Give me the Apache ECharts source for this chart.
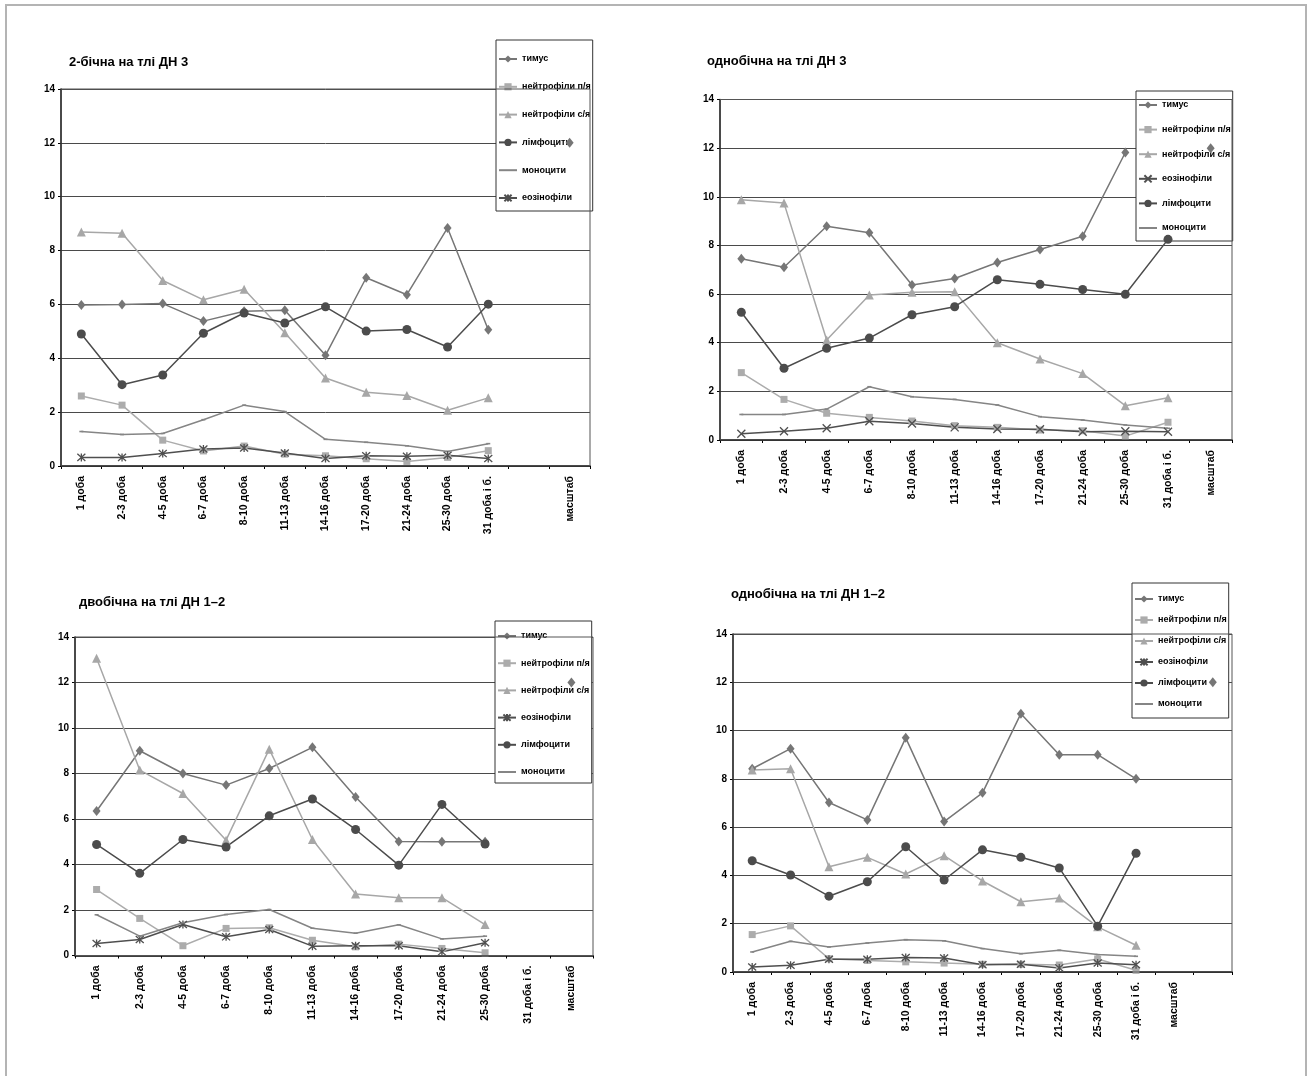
<!DOCTYPE html>
<html>
<head>
<meta charset="utf-8">
<script src="https://cdn.jsdelivr.net/npm/echarts@6/dist/echarts.min.js"></script>
<style>
  html, body { margin: 0; padding: 0; background: #fff; }
  #frame { position: absolute; left: 5px; top: 4px; width: 1302px; height: 1090px;
           border: 2px solid #b4b4b4; border-bottom: none; box-sizing: border-box; }
  .panel { position: absolute; left: 0; top: 0; width: 1308px; height: 1076px; }
</style>
</head>
<body>
<div id="frame"></div>
<div class="panel" id="p1"></div>
<div class="panel" id="p2"></div>
<div class="panel" id="p3"></div>
<div class="panel" id="p4"></div>
<script>
// Observation periods (x categories)
const days = ['1 доба', '2-3 доба', '4-5 доба', '6-7 доба', '8-10 доба', '11-13 доба',
              '14-16 доба', '17-20 доба', '21-24 доба', '25-30 доба', '31 доба і б.'];
const scaleLabel = 'масштаб';

const yTicks = { min: 0, max: 14, step: 2 };

// Series names
const NAMES = {
  thymus: 'тимус',
  band: 'нейтрофіли п/я',
  seg: 'нейтрофіли с/я',
  lymph: 'лімфоцити',
  mono: 'моноцити',
  eos: 'еозінофіли'
};

// 2-бічна на тлі ДН 3
const p1Cats   = [...days, '', scaleLabel];
const p1Thymus = [5.98, 6.0, 6.03, 5.38, 5.75, 5.78, 4.11, 6.99, 6.36, 8.84, 5.06, null, 12];
const p1Band   = [2.6, 2.26, 0.96, 0.56, 0.74, 0.44, 0.38, 0.27, 0.17, 0.32, 0.57];
const p1Seg    = [8.69, 8.64, 6.89, 6.17, 6.56, 4.95, 3.27, 2.74, 2.62, 2.07, 2.53];
const p1Lymph  = [4.9, 3.02, 3.38, 4.93, 5.68, 5.31, 5.91, 5.01, 5.07, 4.42, 6.01];
const p1Mono   = [1.28, 1.17, 1.21, 1.72, 2.26, 2.02, 0.99, 0.88, 0.75, 0.54, 0.83];
const p1Eos    = [0.32, 0.32, 0.46, 0.63, 0.67, 0.48, 0.28, 0.38, 0.36, 0.4, 0.28];

// однобічна на тлі ДН 3
const p2Cats   = [...days, scaleLabel];
const p2Thymus = [7.45, 7.1, 8.79, 8.52, 6.37, 6.64, 7.3, 7.83, 8.38, 11.82, null, 12];
const p2Band   = [2.77, 1.67, 1.1, 0.93, 0.78, 0.59, 0.52, 0.41, 0.38, 0.16, 0.73];
const p2Seg    = [9.88, 9.74, 4.11, 5.96, 6.07, 6.1, 4.0, 3.33, 2.73, 1.41, 1.74];
const p2Eos    = [0.26, 0.36, 0.48, 0.77, 0.68, 0.52, 0.45, 0.44, 0.34, 0.36, 0.34];
const p2Lymph  = [5.25, 2.95, 3.77, 4.19, 5.15, 5.48, 6.59, 6.4, 6.19, 5.99, 8.25];
const p2Mono   = [1.05, 1.05, 1.27, 2.19, 1.78, 1.67, 1.44, 0.96, 0.82, 0.62, 0.48];

// двобічна на тлі ДН 1–2
const p3Cats   = [...days, scaleLabel];
const p3Thymus = [6.35, 9.0, 8.0, 7.49, 8.22, 9.15, 6.97, 5.01, 5.0, 5.0, null, 12];
const p3Band   = [2.9, 1.63, 0.43, 1.19, 1.22, 0.67, 0.38, 0.5, 0.31, 0.12];
const p3Seg    = [13.07, 8.15, 7.12, 5.07, 9.07, 5.1, 2.7, 2.54, 2.54, 1.36];
const p3Eos    = [0.53, 0.7, 1.36, 0.82, 1.14, 0.41, 0.43, 0.43, 0.16, 0.56];
const p3Lymph  = [4.88, 3.61, 5.1, 4.77, 6.14, 6.88, 5.54, 3.97, 6.64, 4.9];
const p3Mono   = [1.79, 0.85, 1.44, 1.8, 2.02, 1.2, 0.98, 1.35, 0.73, 0.85];

// однобічна на тлі ДН 1–2
const p4Cats   = [...days, scaleLabel, ''];
const p4Thymus = [8.42, 9.25, 7.02, 6.3, 9.7, 6.23, 7.42, 10.7, 9.0, 9.0, 8.0, null, 12];
const p4Band   = [1.55, 1.91, 0.55, 0.48, 0.42, 0.37, 0.32, 0.32, 0.29, 0.54, 0.07];
const p4Seg    = [8.37, 8.42, 4.36, 4.75, 4.06, 4.82, 3.77, 2.91, 3.07, 1.87, 1.11];
const p4Eos    = [0.21, 0.28, 0.53, 0.53, 0.6, 0.58, 0.3, 0.32, 0.17, 0.37, 0.3];
const p4Lymph  = [4.61, 4.02, 3.14, 3.74, 5.19, 3.81, 5.06, 4.75, 4.31, 1.9, 4.92];
const p4Mono   = [0.83, 1.27, 1.04, 1.2, 1.34, 1.29, 0.97, 0.76, 0.9, 0.72, 0.65];

const FONT = "'Liberation Sans', Arial, sans-serif";
const ASTERISK = 'path://M5,0L5,10M0.6,0.6L9.4,9.4M0.6,9.4L9.4,0.6';
const CROSS = 'path://M0,0L10,10M0,10L10,0';

// Marker / line look of each series kind
const STYLE = {
  thymus: { color: '#767676', symbol: 'diamond', size: [8, 10] },
  band:   { color: '#acacac', symbol: 'rect', size: 7 },
  seg:    { color: '#a7a7a7', symbol: 'triangle', size: 9 },
  lymph:  { color: '#4c4c4c', symbol: 'circle', size: 9 },
  mono:   { color: '#858585', symbol: 'rect', size: [4, 1.6], plainKey: true },
  eos:    { color: '#4f4f4f', symbol: ASTERISK, size: 8, stroke: true },
  eosX:   { color: '#4f4f4f', symbol: CROSS, size: 8, stroke: true }
};

function makeSeries(kind, name, data) {
  const s = STYLE[kind];
  return {
    type: 'line',
    name: name,
    data: data,
    z: 5,
    symbol: s.symbol,
    symbolSize: s.size,
    showAllSymbol: true,
    connectNulls: false,
    animation: false,
    lineStyle: { color: s.color, width: 1.5 },
    itemStyle: s.stroke
      ? { color: 'rgba(0,0,0,0)', borderColor: s.color, borderWidth: 1.3 }
      : { color: s.color, borderWidth: 0 },
    emphasis: { disabled: true }
  };
}

function legendItem(s) {
  // the tiny dash marker of the monocyte line reads as a plain line in the key
  return STYLE[s.kind].plainKey ? { name: s.name, itemStyle: { opacity: 0 } } : { name: s.name };
}

function buildOption(cfg) {
  return {
    animation: false,
    title: {
      text: cfg.title,
      left: cfg.titlePos[0], top: cfg.titlePos[1],
      padding: 0,
      textStyle: { fontFamily: FONT, fontSize: 13, fontWeight: 'bold', color: '#000' }
    },
    grid: Object.assign({
      show: true, z: 6, borderColor: '#555', borderWidth: 1,
      backgroundColor: 'rgba(0,0,0,0)', containLabel: false
    }, cfg.grid),
    legend: {
      orient: 'vertical',
      left: cfg.legend.left, top: cfg.legend.top,
      padding: cfg.legend.padding,
      itemGap: cfg.legend.gap,
      itemWidth: 18, itemHeight: 9,
      backgroundColor: '#fff',
      borderColor: '#333', borderWidth: 1,
      z: 4,
      selectedMode: false,
      textStyle: { fontFamily: FONT, fontSize: 9, fontWeight: 'bold', color: '#000', lineHeight: 12 },
      data: cfg.series.map(legendItem)
    },
    xAxis: {
      type: 'category',
      data: cfg.cats,
      boundaryGap: true,
      axisLine: { lineStyle: { color: '#000', width: 1.5 } },
      axisTick: { show: true, length: 3, lineStyle: { color: '#000' } },
      axisLabel: {
        interval: 0, rotate: 90, margin: 10,
        fontFamily: FONT, fontSize: 10.5, fontWeight: 'bold', color: '#000'
      },
      splitLine: { show: false }
    },
    yAxis: {
      type: 'value',
      min: yTicks.min, max: yTicks.max, interval: yTicks.step,
      axisLine: { show: true, lineStyle: { color: '#000', width: 1.5 } },
      axisTick: { show: true, length: 3, lineStyle: { color: '#000' } },
      axisLabel: { margin: 6, fontFamily: FONT, fontSize: 10, fontWeight: 'bold', color: '#000' },
      splitLine: { show: true, lineStyle: { color: '#4a4a4a', width: 1 } }
    },
    series: cfg.series.map(s => makeSeries(s.kind, s.name, s.data))
  };
}

const panels = [
  {
    el: 'p1', title: '2-бічна на тлі ДН 3', titlePos: [69, 56],
    grid: { left: 61, top: 89, right: 718, bottom: 610 },
    legend: { left: 496, top: 40, gap: 15.8, padding: [13, 2, 7, 2] },
    cats: p1Cats,
    series: [
      { kind: 'thymus', name: NAMES.thymus, data: p1Thymus },
      { kind: 'band', name: NAMES.band, data: p1Band },
      { kind: 'seg', name: NAMES.seg, data: p1Seg },
      { kind: 'lymph', name: NAMES.lymph, data: p1Lymph },
      { kind: 'mono', name: NAMES.mono, data: p1Mono },
      { kind: 'eos', name: NAMES.eos, data: p1Eos }
    ]
  },
  {
    el: 'p2', title: 'однобічна на тлі ДН 3', titlePos: [707, 55],
    grid: { left: 720, top: 99.5, right: 76, bottom: 636 },
    legend: { left: 1136, top: 91, gap: 12.6, padding: [8, 2, 7, 2] },
    cats: p2Cats,
    series: [
      { kind: 'thymus', name: NAMES.thymus, data: p2Thymus },
      { kind: 'band', name: NAMES.band, data: p2Band },
      { kind: 'seg', name: NAMES.seg, data: p2Seg },
      { kind: 'eosX', name: NAMES.eos, data: p2Eos },
      { kind: 'lymph', name: NAMES.lymph, data: p2Lymph },
      { kind: 'mono', name: NAMES.mono, data: p2Mono }
    ]
  },
  {
    el: 'p3', title: 'двобічна на тлі ДН 1–2', titlePos: [79, 596],
    grid: { left: 75, top: 637, right: 715, bottom: 120.5 },
    legend: { left: 495, top: 621, gap: 15.2, padding: [9, 2, 5, 2] },
    cats: p3Cats,
    series: [
      { kind: 'thymus', name: NAMES.thymus, data: p3Thymus },
      { kind: 'band', name: NAMES.band, data: p3Band },
      { kind: 'seg', name: NAMES.seg, data: p3Seg },
      { kind: 'eos', name: NAMES.eos, data: p3Eos },
      { kind: 'lymph', name: NAMES.lymph, data: p3Lymph },
      { kind: 'mono', name: NAMES.mono, data: p3Mono }
    ]
  },
  {
    el: 'p4', title: 'однобічна на тлі ДН 1–2', titlePos: [731, 588],
    grid: { left: 733, top: 634, right: 76, bottom: 104 },
    legend: { left: 1132, top: 583, gap: 9, padding: [10, 2, 8, 2] },
    cats: p4Cats,
    series: [
      { kind: 'thymus', name: NAMES.thymus, data: p4Thymus },
      { kind: 'band', name: NAMES.band, data: p4Band },
      { kind: 'seg', name: NAMES.seg, data: p4Seg },
      { kind: 'eos', name: NAMES.eos, data: p4Eos },
      { kind: 'lymph', name: NAMES.lymph, data: p4Lymph },
      { kind: 'mono', name: NAMES.mono, data: p4Mono }
    ]
  }
];

panels.forEach(cfg => {
  const chart = echarts.init(document.getElementById(cfg.el), null, { renderer: 'canvas' });
  chart.setOption(buildOption(cfg));
});
</script>
</body>
</html>
